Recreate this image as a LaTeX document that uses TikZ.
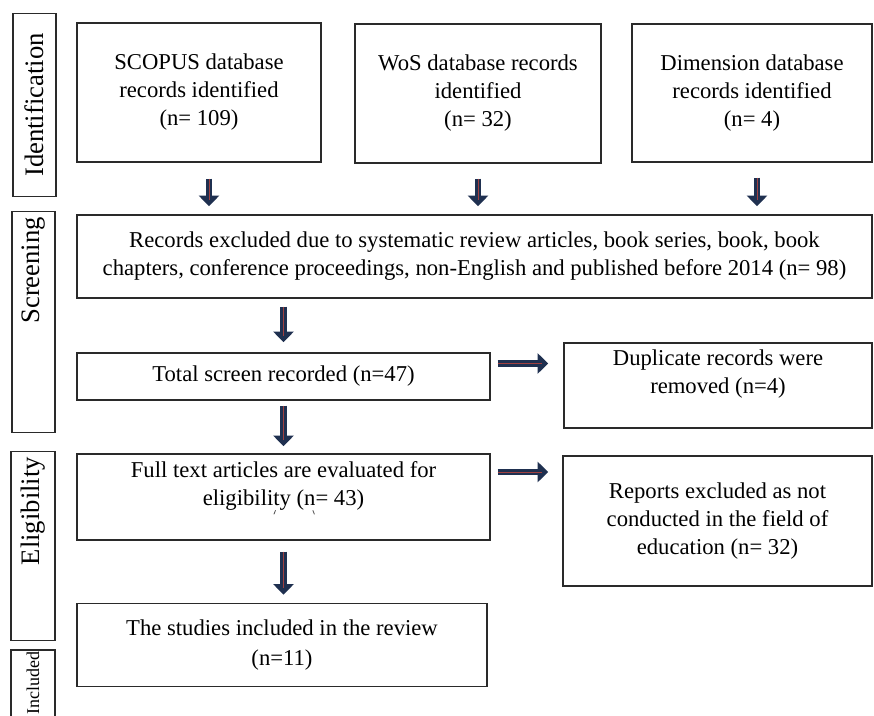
\documentclass[tikz,border=0pt]{standalone}
\usepackage{fontspec}
\setmainfont{Liberation Serif}
\usetikzlibrary{arrows.meta}
\definecolor{navyc}{HTML}{1F3050}
\definecolor{redc}{HTML}{A04040}
\definecolor{edgec}{HTML}{2A2A2A}
\tikzset{
  wh/.style 2 args={minimum width=#1*0.75pt, minimum height=#2*0.75pt},
  box/.style={draw=edgec, line width=1.1pt, align=center, inner sep=0pt,
    font=\fontsize{17}{21}\selectfont},
  lab/.style={draw=edgec, line width=1.1pt, rotate=90, inner ysep=0pt, inner xsep=4pt,
    font=\fontsize{20}{24}\selectfont},
  arr/.style 2 args={draw=navyc, line width=5pt, -{Triangle[width=15pt,length=8pt]},
    shorten <=#1, shorten >=#2,
    postaction={draw=redc, line width=0.5pt, arrows=-, shorten <=#1, shorten >=#2+5pt}},
  tick/.style={draw=black!70, line width=0.6pt},
}
\begin{document}
\begin{tikzpicture}[x=0.75pt,y=-0.75pt]
\fill[white] (0,0) rectangle (874,716);
\useasboundingbox (0,0) rectangle (874,716);

% phase labels
\node[lab, wh={180}{43}, text width={172*0.75pt}, align=center] (lid) at (34.5,105) {Identification};
\node[lab, wh={220}{43}, text width={210*0.75pt}, align=right] (lsc) at (33.5,322) {Screening};
\node[lab, wh={188}{44}, text width={178*0.75pt}, align=right] (lel) at (33,546) {Eligibility};
\node[lab, wh={84}{44}, text width={80*0.75pt}, inner xsep=1.5pt, align=right,
      font=\fontsize{13.5}{16}\selectfont] (lin) at (33,692) {Included};

% boxes
\node[box, wh={244}{139}] (scopus) at (199,92.5) {SCOPUS database\\records identified\\(n= 109)};
\node[box, wh={246}{139}] (wos) at (478,93.5) {WoS database records\\identified\\(n= 32)};
\node[box, wh={240}{138}] (dim) at (752,93) {Dimension database\\records identified\\(n= 4)};
\node[box, wh={795}{83}] (screen) at (474.5,256.5) {Records excluded due to systematic review articles, book series, book, book\\chapters, conference proceedings, non-English and published before 2014 (n= 98)};
\node[box, wh={413}{47}] (total) at (283.5,376.5) {Total screen recorded (n=47)};
\node[box, wh={308}{85}] (dup) at (718,385.5) {Duplicate records were\\removed (n=4)\\[0pt]};
\node[box, wh={413}{86}] (full) at (283.5,497) {Full text articles are evaluated for\\eligibility (n= 43)\\[-1.5pt]};
\node[box, wh={309}{130}] (rep) at (717.5,521) {Reports excluded as not\\conducted in the field of\\education (n= 32)};
\node[box, wh={410}{83}, font=\fontsize{17}{22}\selectfont] (stud) at (282,645) {The studies included in the review\\(n=11)};

% small stray marks under the eligibility line
\draw[tick] ([xshift=-6pt,yshift=-10pt]full.center) -- ++(-1.2pt,-3pt);
\draw[tick] ([xshift=22pt,yshift=-10pt]full.center) -- ++(1.2pt,-3pt);

% down arrows
\draw[arr={12pt}{6pt}] ([xshift=7.5pt]scopus.south) -- ([xshift=7.5pt]scopus.south |- screen.north);
\draw[arr={11.25pt}{6pt}] (wos.south) -- (wos.south |- screen.north);
\draw[arr={11.25pt}{6pt}] ([xshift=3.75pt]dim.south) -- ([xshift=3.75pt]dim.south |- screen.north);
\draw[arr={6pt}{7.5pt}] (total.north |- screen.south) -- (total.north);
\draw[arr={3.75pt}{5.25pt}] (total.south) -- (full.north);
\draw[arr={8.25pt}{6pt}] (full.south) -- (full.south |- stud.north);

% right arrows
\draw[arr={5.25pt}{11.25pt}] ([yshift=9.75pt]total.east) -- ([yshift=9.75pt]total.east -| dup.west);
\draw[arr={5.25pt}{10.5pt}] ([yshift=18.75pt]full.east) -- ([yshift=18.75pt]full.east -| rep.west);
\end{tikzpicture}
\end{document}
